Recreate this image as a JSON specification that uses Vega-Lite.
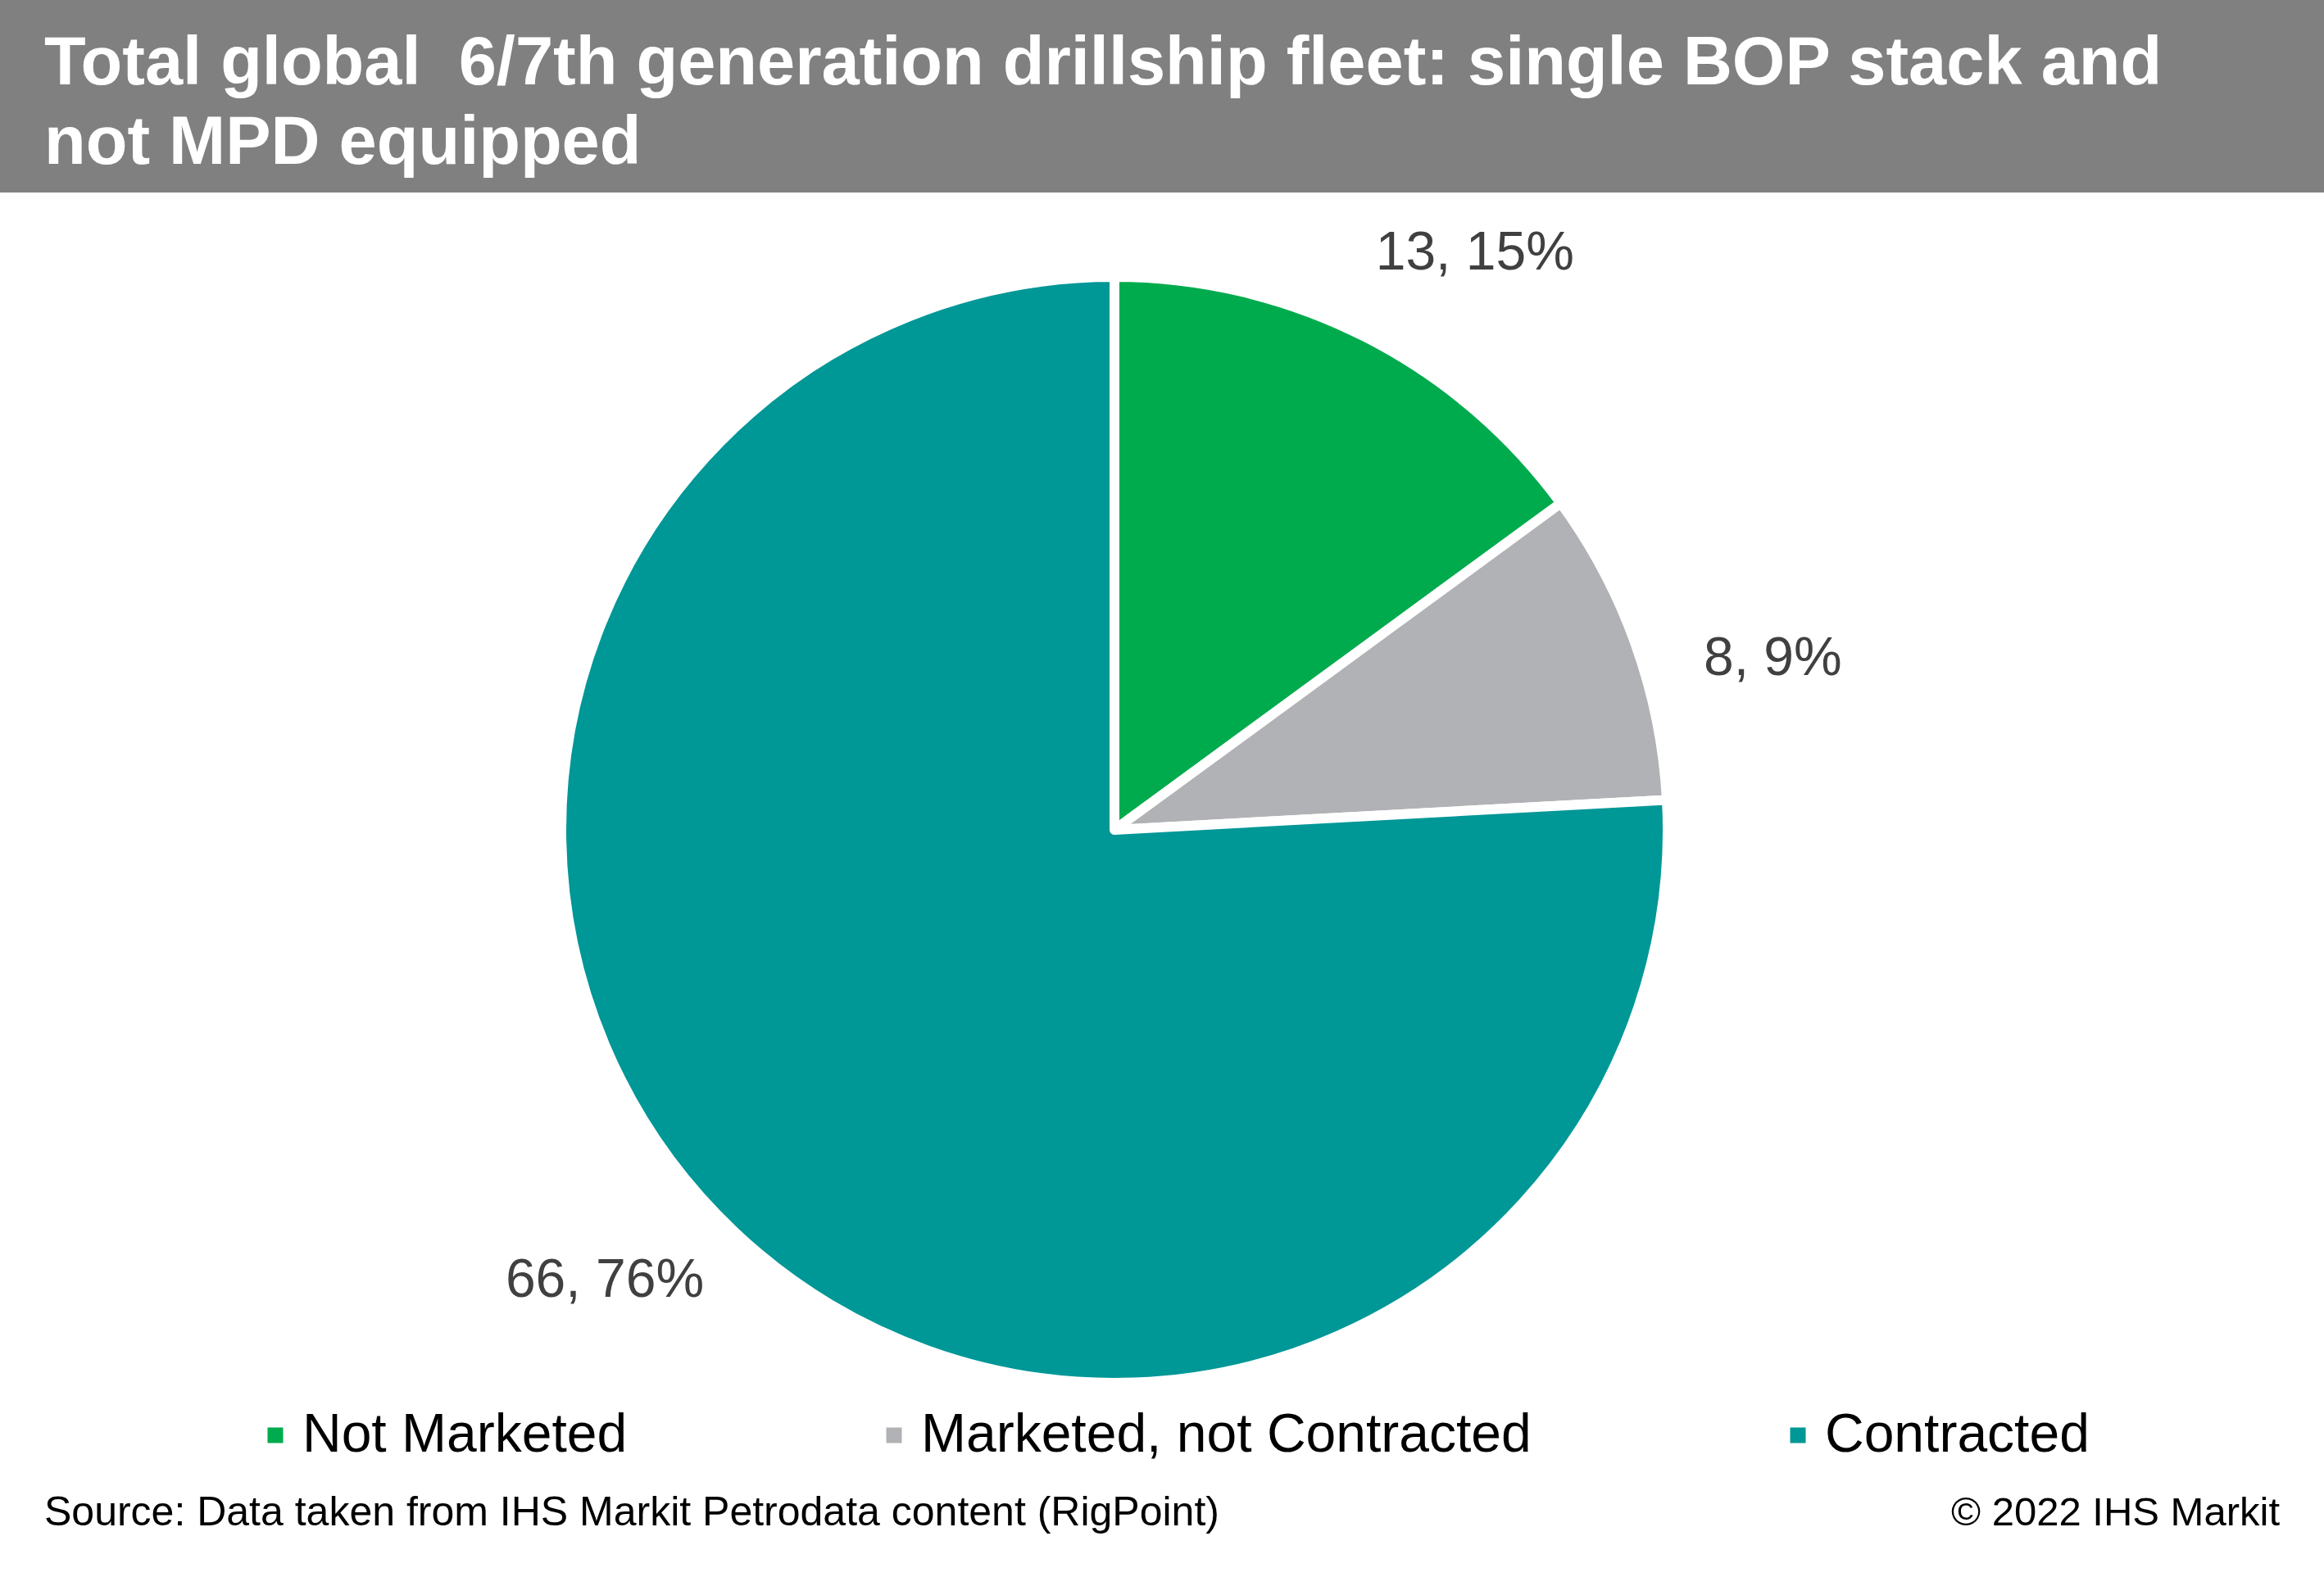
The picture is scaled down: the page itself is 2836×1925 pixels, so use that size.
{
  "$schema": "https://vega.github.io/schema/vega-lite/v6.json",
  "padding": 0,
  "background": "white",
  "spacing": 0,
  "config": {"view": {"stroke": null}, "concat": {"spacing": 0}},
  "title": {"text": "© 2022 IHS Markit", "orient": "bottom", "anchor": "end", "frame": "bounds", "offset": -10, "baseline": "alphabetic", "dx": -54, "font": "Liberation Sans", "fontSize": 49, "fontWeight": "normal", "color": "black"},
  "vconcat": [
    {
      "width": 2836,
      "height": 235,
      "view": {"fill": "#7F807F", "stroke": null},
      "title": {"text": ["Total global\u00a0 6/7th generation drillship fleet: single BOP stack and", "not MPD equipped"], "orient": "top", "anchor": "start", "frame": "group", "offset": -283, "baseline": "alphabetic", "dx": 54, "font": "Liberation Sans", "fontSize": 83, "fontWeight": "bold", "color": "white", "lineHeight": 97},
      "data": {"values": []},
      "mark": {"type": "point", "opacity": 0}
    },
    {
      "width": 2720,
      "height": 1556,
      "title": {"text": "Source: Data taken from IHS Markit Petrodata content (RigPoint)", "orient": "bottom", "anchor": "start", "frame": "group", "offset": 71, "baseline": "alphabetic", "dx": 54, "font": "Liberation Sans", "fontSize": 50, "fontWeight": "normal", "color": "black"},
      "data": {"values": [
        {"status": "Not Marketed", "count": 13, "rank": 1, "label": "13, 15%"},
        {"status": "Marketed, not Contracted", "count": 8, "rank": 2, "label": "8, 9%"},
        {"status": "Contracted", "count": 66, "rank": 3, "label": "66, 76%"}
      ]},
      "encoding": {
        "order": {"field": "rank", "type": "quantitative"},
        "color": {
          "field": "status", "type": "nominal",
          "scale": {"domain": ["Not Marketed", "Marketed, not Contracted", "Contracted"], "range": ["#00AB4E", "#B1B2B5", "#009797"]},
          "legend": {"orient": "none", "legendX": 303, "legendY": 1719, "direction": "horizontal", "title": null, "symbolType": "square", "symbolSize": 361, "symbolStrokeWidth": 0, "labelFontSize": 66, "labelFont": "Liberation Sans", "labelColor": "black", "labelOffset": 0, "columnPadding": 292, "padding": 0, "labelLimit": 2000}
        }
      },
      "layer": [
        {
          "mark": {"type": "arc", "outerRadius": 675, "stroke": "white", "strokeWidth": 12, "strokeJoin": "round"},
          "encoding": {"theta": {"field": "count", "type": "quantitative", "stack": true}}
        },
        {
          "mark": {"type": "text", "radius": 830, "fontSize": 66, "font": "Liberation Sans"},
          "encoding": {
            "theta": {"field": "count", "type": "quantitative", "stack": true, "scale": {"range": [0.089, 6.372]}},
            "text": {"field": "label", "type": "nominal"},
            "color": {"value": "#404040"}
          }
        }
      ],
      "resolve": {"scale": {"theta": "independent"}}
    }
  ]
}
